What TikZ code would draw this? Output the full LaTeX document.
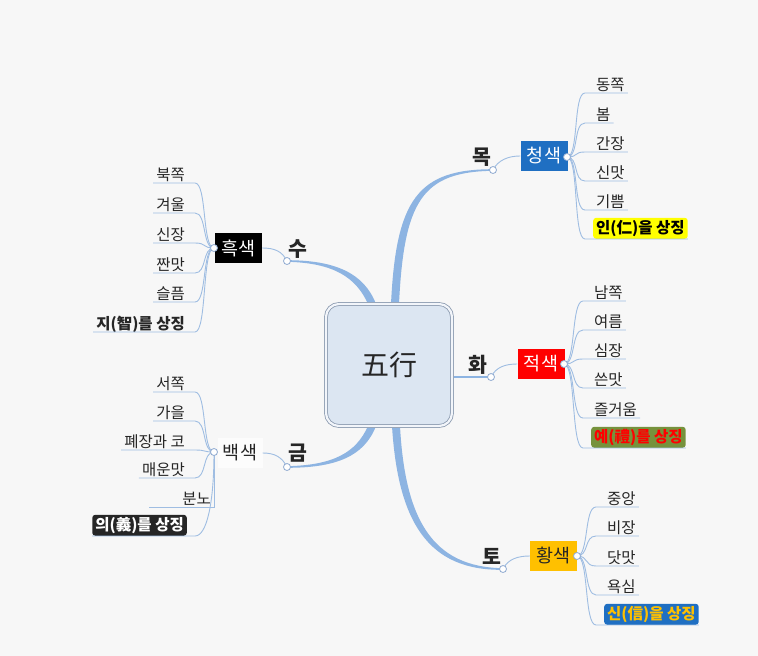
\documentclass[tikz,border=0pt]{standalone}
\usepackage{fontspec}
\setmainfont{Noto Sans CJK KR}
\usetikzlibrary{calc}

\definecolor{bgcol}{HTML}{F7F7F7}
\definecolor{branchcol}{HTML}{8DB4E2}
\definecolor{twigcol}{HTML}{9FBDE2}
\definecolor{dotcol}{HTML}{8FAAD0}
\definecolor{rootfill}{HTML}{DCE6F2}
\definecolor{rootdraw}{HTML}{8C9BB0}
\definecolor{rootgap}{HTML}{F2F5FA}
\definecolor{labelcol}{HTML}{262626}
\definecolor{bluebox}{HTML}{1F6FC2}
\definecolor{redbox}{HTML}{FF0000}
\definecolor{goldbox}{HTML}{FFC000}
\definecolor{hlyellow}{HTML}{FFFF00}
\definecolor{olivebox}{HTML}{76923C}
\definecolor{darkbox}{HTML}{262626}
\definecolor{paleface}{HTML}{FCFCFC}

\newcommand\leafsize{\fontsize{15.5}{18}\selectfont}
\newcommand\colsize{\fontsize{18.5}{21}\selectfont}
\newcommand\elemsize{\fontsize{20.5}{23}\selectfont\bfseries}
\newcommand\rootsize{\fontsize{28}{32}\selectfont}

\begin{document}
\begin{tikzpicture}[x=1pt,y=-1pt,
    branch/.style={fill=branchcol},
    twig/.style={draw=twigcol, line width=0.9pt},
    dotmark/.style={draw=dotcol, fill=white, line width=0.8pt},
    rootbox/.style={draw=rootdraw, double=rootgap, double distance=2.2pt, line width=0.8pt,
        fill=rootfill, rounded corners=13pt, minimum width=126pt, minimum height=122pt,
        font=\rootsize, text=labelcol},
    elem/.style={font=\elemsize, text=labelcol, inner sep=1pt},
    colbox/.style={font=\colsize, minimum width=47pt, minimum height=30pt, inner sep=0pt},
    leaf/.style={font=\leafsize, text=labelcol, inner xsep=3pt, inner ysep=0pt,
        text height=13.5pt, text depth=2.5pt},
    hilite/.style={leaf, font=\leafsize\bfseries, inner ysep=2.5pt, rounded corners=3pt}]

    \fill[bgcol] (0,0) rectangle (758,656);
    \useasboundingbox (0,0) rectangle (758,656);

    % roots and joints
    \coordinate (mokroot) at (395,304);
    \coordinate (suroot) at (372,304);
    \coordinate (geumroot) at (372,426);
    \coordinate (toroot) at (396,426);
    \coordinate (hwaroot) at (452,377);
    \coordinate (mokdot) at (493,170);
    \coordinate (sudot) at (287,261);
    \coordinate (hwadot) at (491,377);
    \coordinate (geumdot) at (287,467);
    \coordinate (todot) at (503,569);
    \coordinate (cheongdot) at (567,157);
    \coordinate (jeokdot) at (564,364);
    \coordinate (hwangdot) at (577,556);
    \coordinate (heukdot) at (214,248);
    \coordinate (baekdot) at (214,452);

    % main branches
    \fill[branch] ($(mokroot)+(-4,0)$) .. controls +(5,-105) and +(-75,0) .. ($(mokdot)+(0,-0.8)$)
        -- ($(mokdot)+(0,0.8)$) .. controls +(-71,1) and +(5,-103) .. ($(mokroot)+(4,0)$) -- cycle;
    \fill[branch] ($(suroot)+(4,0)$) .. controls +(-12,-31) and +(48,0) .. ($(sudot)+(0,-0.8)$)
        -- ($(sudot)+(0,0.8)$) .. controls +(46,1) and +(-12,-27) .. ($(suroot)+(-4,0)$) -- cycle;
    \fill[branch] ($(geumroot)+(4,0)$) .. controls +(-12,31) and +(48,0) .. ($(geumdot)+(0,0.8)$)
        -- ($(geumdot)+(0,-0.8)$) .. controls +(46,-1) and +(-12,27) .. ($(geumroot)+(-4,0)$) -- cycle;
    \fill[branch] ($(toroot)+(-4,0)$) .. controls +(6,96) and +(-75,1) .. ($(todot)+(0,0.8)$)
        -- ($(todot)+(0,-0.8)$) .. controls +(-71,-1) and +(5,93) .. ($(toroot)+(4,0)$) -- cycle;
    \draw[branchcol, line width=1.5pt] (hwaroot) -- (hwadot);

    \node[rootbox] (wuxing) at (389,365) {五行};

    \node[elem] (mok) at (482,157) {목};
    \node[elem] (su) at (298,249) {수};
    \node[elem] (hwa) at (478,365) {화};
    \node[elem] (geum) at (298,453) {금};
    \node[elem] (to) at (492,556) {토};

    \node[colbox, fill=bluebox, text=white] (cheong) at (544,156) {청색};
    \node[colbox, fill=redbox, text=white] (jeok) at (541,364) {적색};
    \node[colbox, fill=goldbox, text=labelcol] (hwang) at (553.5,556) {황색};
    \node[colbox, fill=black, text=white] (heuk) at (238.5,248) {흑색};
    \node[colbox, fill=paleface, text=labelcol, minimum width=45pt] (baek) at (240,453) {백색};

    \draw[twig] (mokdot) .. controls +(5,-10) and +(-12,0) .. (cheong.west);
    \draw[twig] (hwadot) .. controls +(5,-10) and +(-12,0) .. (jeok.west);
    \draw[twig] (todot) .. controls +(5,-10) and +(-12,0) .. (hwang.west);
    \draw[twig] (sudot) .. controls +(-5,-10) and +(12,0) .. (heuk.east);
    \draw[twig] (geumdot) .. controls +(-5,-10) and +(12,0) .. (baek.east);

    % 청색
    \node[leaf, anchor=south west] (cheong1) at (593,93) {동쪽};
    \node[leaf, anchor=south west] (cheong2) at (593,123) {봄};
    \node[leaf, anchor=south west] (cheong3) at (593,152) {간장};
    \node[leaf, anchor=south west] (cheong4) at (593,181) {신맛};
    \node[leaf, anchor=south west] (cheong5) at (593,210) {기쁨};
    \node[hilite, anchor=south west, fill=hlyellow, text=black] (cheong6) at (593,239) {인(仁)을 상징};
    \draw[twig] (cheongdot) .. controls +(12,0) and +(-12,0) .. ([xshift=-8pt]cheong1.south west) -- (cheong1.south east);
    \draw[twig] (cheongdot) .. controls +(12,0) and +(-12,0) .. ([xshift=-8pt]cheong2.south west) -- (cheong2.south east);
    \draw[twig] (cheongdot) .. controls +(12,0) and +(-12,0) .. ([xshift=-8pt]cheong3.south west) -- (cheong3.south east);
    \draw[twig] (cheongdot) .. controls +(12,0) and +(-12,0) .. ([xshift=-8pt]cheong4.south west) -- (cheong4.south east);
    \draw[twig] (cheongdot) .. controls +(12,0) and +(-12,0) .. ([xshift=-8pt]cheong5.south west) -- (cheong5.south east);
    \draw[twig] (cheongdot) .. controls +(12,0) and +(-12,0) .. ([xshift=-8pt]cheong6.south west) -- (cheong6.south east);

    % 적색
    \node[leaf, anchor=south west] (jeok1) at (591,301) {남쪽};
    \node[leaf, anchor=south west] (jeok2) at (591,330) {여름};
    \node[leaf, anchor=south west] (jeok3) at (591,359) {심장};
    \node[leaf, anchor=south west] (jeok4) at (591,388) {쓴맛};
    \node[leaf, anchor=south west] (jeok5) at (591,418) {즐거움};
    \node[hilite, anchor=south west, fill=olivebox, text=redbox] (jeok6) at (591,448) {예(禮)를 상징};
    \draw[twig] (jeokdot) .. controls +(12,0) and +(-12,0) .. ([xshift=-8pt]jeok1.south west) -- (jeok1.south east);
    \draw[twig] (jeokdot) .. controls +(12,0) and +(-12,0) .. ([xshift=-8pt]jeok2.south west) -- (jeok2.south east);
    \draw[twig] (jeokdot) .. controls +(12,0) and +(-12,0) .. ([xshift=-8pt]jeok3.south west) -- (jeok3.south east);
    \draw[twig] (jeokdot) .. controls +(12,0) and +(-12,0) .. ([xshift=-8pt]jeok4.south west) -- (jeok4.south east);
    \draw[twig] (jeokdot) .. controls +(12,0) and +(-12,0) .. ([xshift=-8pt]jeok5.south west) -- (jeok5.south east);
    \draw[twig] (jeokdot) .. controls +(12,0) and +(-12,0) .. ([xshift=-8pt]jeok6.south west) -- (jeok6.south east);

    % 황색
    \node[leaf, anchor=south west] (hwang1) at (604,507) {중앙};
    \node[leaf, anchor=south west] (hwang2) at (604,536) {비장};
    \node[leaf, anchor=south west] (hwang3) at (604,566) {닷맛};
    \node[leaf, anchor=south west] (hwang4) at (604,595) {욕심};
    \node[hilite, anchor=south west, fill=bluebox, text=goldbox] (hwang5) at (604,625) {신(信)을 상징};
    \draw[twig] (hwangdot) .. controls +(12,0) and +(-12,0) .. ([xshift=-8pt]hwang1.south west) -- (hwang1.south east);
    \draw[twig] (hwangdot) .. controls +(12,0) and +(-12,0) .. ([xshift=-8pt]hwang2.south west) -- (hwang2.south east);
    \draw[twig] (hwangdot) .. controls +(12,0) and +(-12,0) .. ([xshift=-8pt]hwang3.south west) -- (hwang3.south east);
    \draw[twig] (hwangdot) .. controls +(12,0) and +(-12,0) .. ([xshift=-8pt]hwang4.south west) -- (hwang4.south east);
    \draw[twig] (hwangdot) .. controls +(12,0) and +(-12,0) .. ([xshift=-8pt]hwang5.south west) -- (hwang5.south east);

    % 흑색
    \node[leaf, anchor=south east] (heuk1) at (188,183) {북쪽};
    \node[leaf, anchor=south east] (heuk2) at (188,213) {겨울};
    \node[leaf, anchor=south east] (heuk3) at (188,243) {신장};
    \node[leaf, anchor=south east] (heuk4) at (188,273) {짠맛};
    \node[leaf, anchor=south east] (heuk5) at (188,302) {슬픔};
    \node[leaf, anchor=south east, font=\leafsize\bfseries] (heuk6) at (188,332) {지(智)를 상징};
    \draw[twig] (heukdot) .. controls +(-12,0) and +(12,0) .. ([xshift=7pt]heuk1.south east) -- (heuk1.south west);
    \draw[twig] (heukdot) .. controls +(-12,0) and +(12,0) .. ([xshift=7pt]heuk2.south east) -- (heuk2.south west);
    \draw[twig] (heukdot) .. controls +(-12,0) and +(12,0) .. ([xshift=7pt]heuk3.south east) -- (heuk3.south west);
    \draw[twig] (heukdot) .. controls +(-12,0) and +(12,0) .. ([xshift=7pt]heuk4.south east) -- (heuk4.south west);
    \draw[twig] (heukdot) .. controls +(-12,0) and +(12,0) .. ([xshift=7pt]heuk5.south east) -- (heuk5.south west);
    \draw[twig] (heukdot) .. controls +(-12,0) and +(12,0) .. ([xshift=7pt]heuk6.south east) -- (heuk6.south west);

    % 백색
    \node[leaf, anchor=south east] (baek1) at (188,392) {서쪽};
    \node[leaf, anchor=south east] (baek2) at (188,421) {가을};
    \node[leaf, anchor=south east] (baek3) at (188,450) {폐장과 코};
    \node[leaf, anchor=south east] (baek4) at (188,478) {매운맛};
    \node[leaf, anchor=south east, text width=59pt, align=right] (baek5) at (214,507) {분노};
    \node[hilite, anchor=south east, fill=darkbox, text=white] (baek6) at (187,536) {의(義)를 상징};
    \draw[twig] (baekdot) .. controls +(-12,0) and +(12,0) .. ([xshift=7pt]baek1.south east) -- (baek1.south west);
    \draw[twig] (baekdot) .. controls +(-12,0) and +(12,0) .. ([xshift=7pt]baek2.south east) -- (baek2.south west);
    \draw[twig] (baekdot) .. controls +(-12,0) and +(12,0) .. ([xshift=7pt]baek3.south east) -- (baek3.south west);
    \draw[twig] (baekdot) .. controls +(-12,0) and +(12,0) .. ([xshift=7pt]baek4.south east) -- (baek4.south west);
    \draw[twig] (baekdot) -- (baek5.south east) -- (baek5.south west);
    \draw[twig] (baekdot) .. controls +(0,50) and +(12,0) .. ([xshift=8pt]baek6.south east) -- (baek6.south west);

    % joints
    \foreach \d in {mokdot,sudot,hwadot,geumdot,todot,cheongdot,jeokdot,hwangdot,heukdot,baekdot}
        \draw[dotmark] (\d) circle (3.5);
\end{tikzpicture}
\end{document}
